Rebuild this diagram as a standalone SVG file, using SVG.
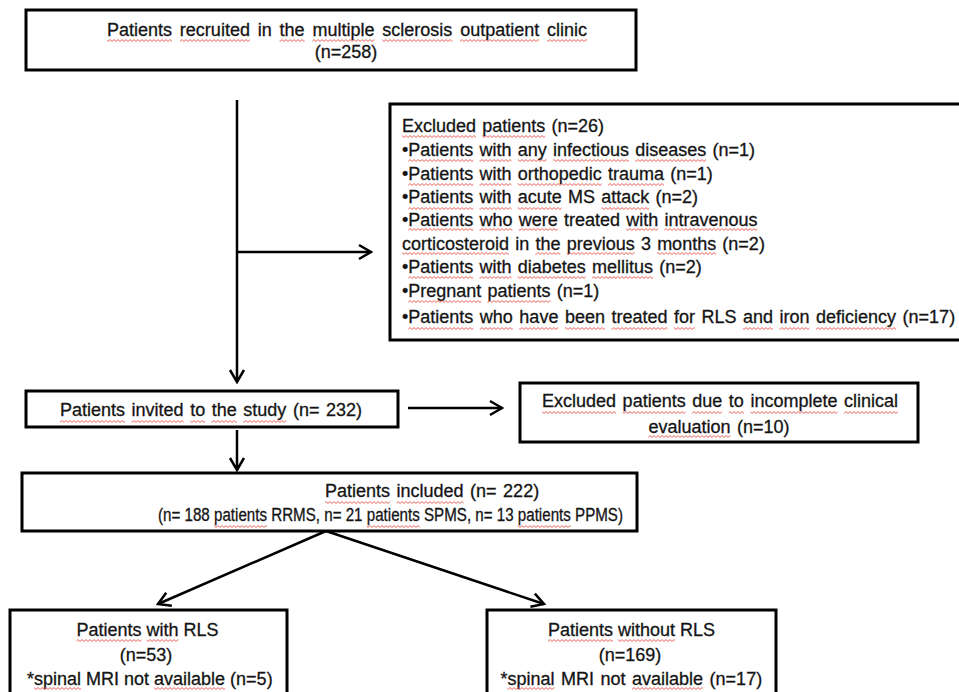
<svg xmlns="http://www.w3.org/2000/svg" width="959" height="692" viewBox="0 0 959 692">
<style>
text{font-family:"Liberation Sans",Arial,sans-serif;font-size:18px;fill:#141414;stroke:#141414;stroke-width:0.3}
.c{text-anchor:middle}
.box{fill:#fff;stroke:#000;stroke-width:3}
.ln{stroke:#000;stroke-width:2.5;fill:none}
.sq{fill:url(#wv);stroke:none}
</style>
<defs>
<marker id="ah" viewBox="-14 -9 16 18" markerWidth="16" markerHeight="18" refX="0" refY="0" orient="auto" markerUnits="userSpaceOnUse">
<path d="M-12,-7 L0,0 L-12,7" fill="none" stroke="#000" stroke-width="2.5"/>
</marker>
<pattern id="wv" x="0" y="0" width="4" height="3" patternUnits="userSpaceOnUse">
<path d="M-1,1.5 L0,2.5 L2,0.5 L4,2.5 L5,1.5" fill="none" stroke="#e5483d" stroke-width="0.9"/>
</pattern>
</defs>
<g id="connectors">
<line class="ln" x1="237" y1="100" x2="237" y2="382" marker-end="url(#ah)"/>
<line class="ln" x1="237" y1="252" x2="371" y2="252" marker-end="url(#ah)"/>
<line class="ln" x1="408" y1="408" x2="502" y2="408" marker-end="url(#ah)"/>
<line class="ln" x1="237" y1="430" x2="237" y2="470" marker-end="url(#ah)"/>
<line class="ln" x1="326" y1="531" x2="158" y2="604" marker-end="url(#ah)"/>
<line class="ln" x1="326" y1="531" x2="544" y2="604" marker-end="url(#ah)"/>
</g>
<g id="recruited">
<rect class="box" x="26" y="10" width="610" height="60"/>
<text x="107" y="36" word-spacing="2.83">Patients recruited in the multiple sclerosis outpatient clinic</text>
<text x="346" y="58" class="c">(n=258)</text>
<rect class="sq" x="107" y="39" width="65" height="3"/>
<rect class="sq" x="179.9" y="39" width="70" height="3"/>
<rect class="sq" x="279.6" y="39" width="25" height="3"/>
<rect class="sq" x="312.4" y="39" width="62" height="3"/>
<rect class="sq" x="382.3" y="39" width="70" height="3"/>
<rect class="sq" x="460.1" y="39" width="79.1" height="3"/>
<rect class="sq" x="547" y="39" width="40" height="3"/>
</g>
<g id="excluded">
<rect class="box" x="390" y="104" width="571" height="236"/>
<g word-spacing="1.2">
<text x="402" y="132">Excluded patients (n=26)</text>
<text x="402" y="156">•Patients with any infectious diseases (n=1)</text>
<text x="402" y="180">•Patients with orthopedic trauma (n=1)</text>
<text x="402" y="203">•Patients with acute MS attack (n=2)</text>
<text x="402" y="226">•Patients who were treated with intravenous</text>
<text x="402" y="250">corticosteroid in the previous 3 months (n=2)</text>
<text x="402" y="273">•Patients with diabetes mellitus (n=2)</text>
<text x="402" y="297">•Pregnant patients (n=1)</text>
</g>
<text x="402" y="323" word-spacing="1.5">•Patients who have been treated for RLS and iron deficiency (n=17)</text>
<rect class="sq" x="402" y="135" width="74" height="3"/>
<rect class="sq" x="482.2" y="135" width="63" height="3"/>
<rect class="sq" x="408.3" y="159" width="65" height="3"/>
<rect class="sq" x="479.5" y="159" width="32" height="3"/>
<rect class="sq" x="517.7" y="159" width="29" height="3"/>
<rect class="sq" x="553" y="159" width="76" height="3"/>
<rect class="sq" x="635.2" y="159" width="71" height="3"/>
<rect class="sq" x="408.3" y="183" width="65" height="3"/>
<rect class="sq" x="479.5" y="183" width="32" height="3"/>
<rect class="sq" x="517.7" y="183" width="84" height="3"/>
<rect class="sq" x="608" y="183" width="56" height="3"/>
<rect class="sq" x="408.3" y="207" width="65" height="3"/>
<rect class="sq" x="479.5" y="207" width="32" height="3"/>
<rect class="sq" x="517.7" y="207" width="44" height="3"/>
<rect class="sq" x="601.2" y="207" width="48" height="3"/>
<rect class="sq" x="408.3" y="228" width="65" height="3"/>
<rect class="sq" x="479.5" y="228" width="33" height="3"/>
<rect class="sq" x="518.8" y="228" width="39" height="3"/>
<rect class="sq" x="626.2" y="228" width="32" height="3"/>
<rect class="sq" x="664.4" y="228" width="93" height="3"/>
<rect class="sq" x="402" y="252" width="107" height="3"/>
<rect class="sq" x="535.4" y="252" width="25" height="3"/>
<rect class="sq" x="566.7" y="252" width="68" height="3"/>
<rect class="sq" x="657.1" y="252" width="59" height="3"/>
<rect class="sq" x="408.3" y="276" width="65" height="3"/>
<rect class="sq" x="479.5" y="276" width="32" height="3"/>
<rect class="sq" x="517.7" y="276" width="68" height="3"/>
<rect class="sq" x="592" y="276" width="61" height="3"/>
<rect class="sq" x="408.3" y="300" width="73" height="3"/>
<rect class="sq" x="487.5" y="300" width="63" height="3"/>
<rect class="sq" x="408.3" y="327" width="65" height="3"/>
<rect class="sq" x="479.8" y="327" width="33" height="3"/>
<rect class="sq" x="519.3" y="327" width="39" height="3"/>
<rect class="sq" x="564.9" y="327" width="40" height="3"/>
<rect class="sq" x="611.4" y="327" width="56" height="3"/>
<rect class="sq" x="673.9" y="327" width="21" height="3"/>
<rect class="sq" x="742.9" y="327" width="30" height="3"/>
<rect class="sq" x="779.5" y="327" width="30" height="3"/>
<rect class="sq" x="816" y="327" width="80" height="3"/>
</g>
<g id="invited">
<rect class="box" x="26" y="391" width="372" height="36"/>
<text x="60" y="416" word-spacing="1.56">Patients invited to the study (n= 232)</text>
<rect class="sq" x="60" y="420" width="65" height="3"/>
<rect class="sq" x="131.6" y="420" width="52" height="3"/>
<rect class="sq" x="190.2" y="420" width="15" height="3"/>
<rect class="sq" x="211.7" y="420" width="25" height="3"/>
<rect class="sq" x="243.3" y="420" width="43" height="3"/>
</g>
<g id="incomplete">
<rect class="box" x="520" y="383" width="398" height="59"/>
<text x="542" y="407" word-spacing="1.57">Excluded patients due to incomplete clinical</text>
<text x="648.4" y="433" word-spacing="1.57">evaluation (n=10)</text>
<rect class="sq" x="542" y="411" width="74" height="3"/>
<rect class="sq" x="622.6" y="411" width="63" height="3"/>
<rect class="sq" x="692.2" y="411" width="30" height="3"/>
<rect class="sq" x="728.8" y="411" width="15" height="3"/>
<rect class="sq" x="750.4" y="411" width="87" height="3"/>
<rect class="sq" x="844" y="411" width="54" height="3"/>
<rect class="sq" x="648.4" y="435" width="82" height="3"/>
</g>
<g id="included">
<rect class="box" x="22" y="473" width="615" height="58"/>
<text x="325" y="497" word-spacing="1.5">Patients included (n= 222)</text>
<text x="158" y="521" textLength="465" lengthAdjust="spacingAndGlyphs">(n= 188 patients RRMS, n= 21 patients SPMS, n= 13 patients PPMS)</text>
<rect class="sq" x="325" y="501" width="65" height="3"/>
<rect class="sq" x="396.5" y="501" width="67" height="3"/>
<rect class="sq" x="214" y="525" width="53" height="3"/>
<rect class="sq" x="366.7" y="525" width="53.1" height="3"/>
<rect class="sq" x="517.8" y="525" width="53" height="3"/>
</g>
<g id="with-rls">
<rect class="box" x="10" y="610" width="277" height="90"/>
<text x="76.5" y="636">Patients with RLS</text>
<text x="146" y="661" class="c">(n=53)</text>
<text x="27" y="685">*spinal MRI not available (n=5)</text>
<rect class="sq" x="76.5" y="639" width="65" height="3"/>
<rect class="sq" x="146.5" y="639" width="32" height="3"/>
<rect class="sq" x="34" y="687" width="47" height="3"/>
<rect class="sq" x="154" y="687" width="71" height="3"/>
</g>
<g id="without-rls">
<rect class="box" x="487" y="610" width="289" height="90"/>
<text x="548" y="636">Patients without RLS</text>
<text x="630" y="661" class="c">(n=169)</text>
<text x="500.5" y="685" word-spacing="1.5">*spinal MRI not available (n=17)</text>
<rect class="sq" x="548" y="639" width="65" height="3"/>
<rect class="sq" x="618" y="639" width="57" height="3"/>
<rect class="sq" x="507.5" y="687" width="47" height="3"/>
<rect class="sq" x="632" y="687" width="71" height="3"/>
</g>
</svg>
